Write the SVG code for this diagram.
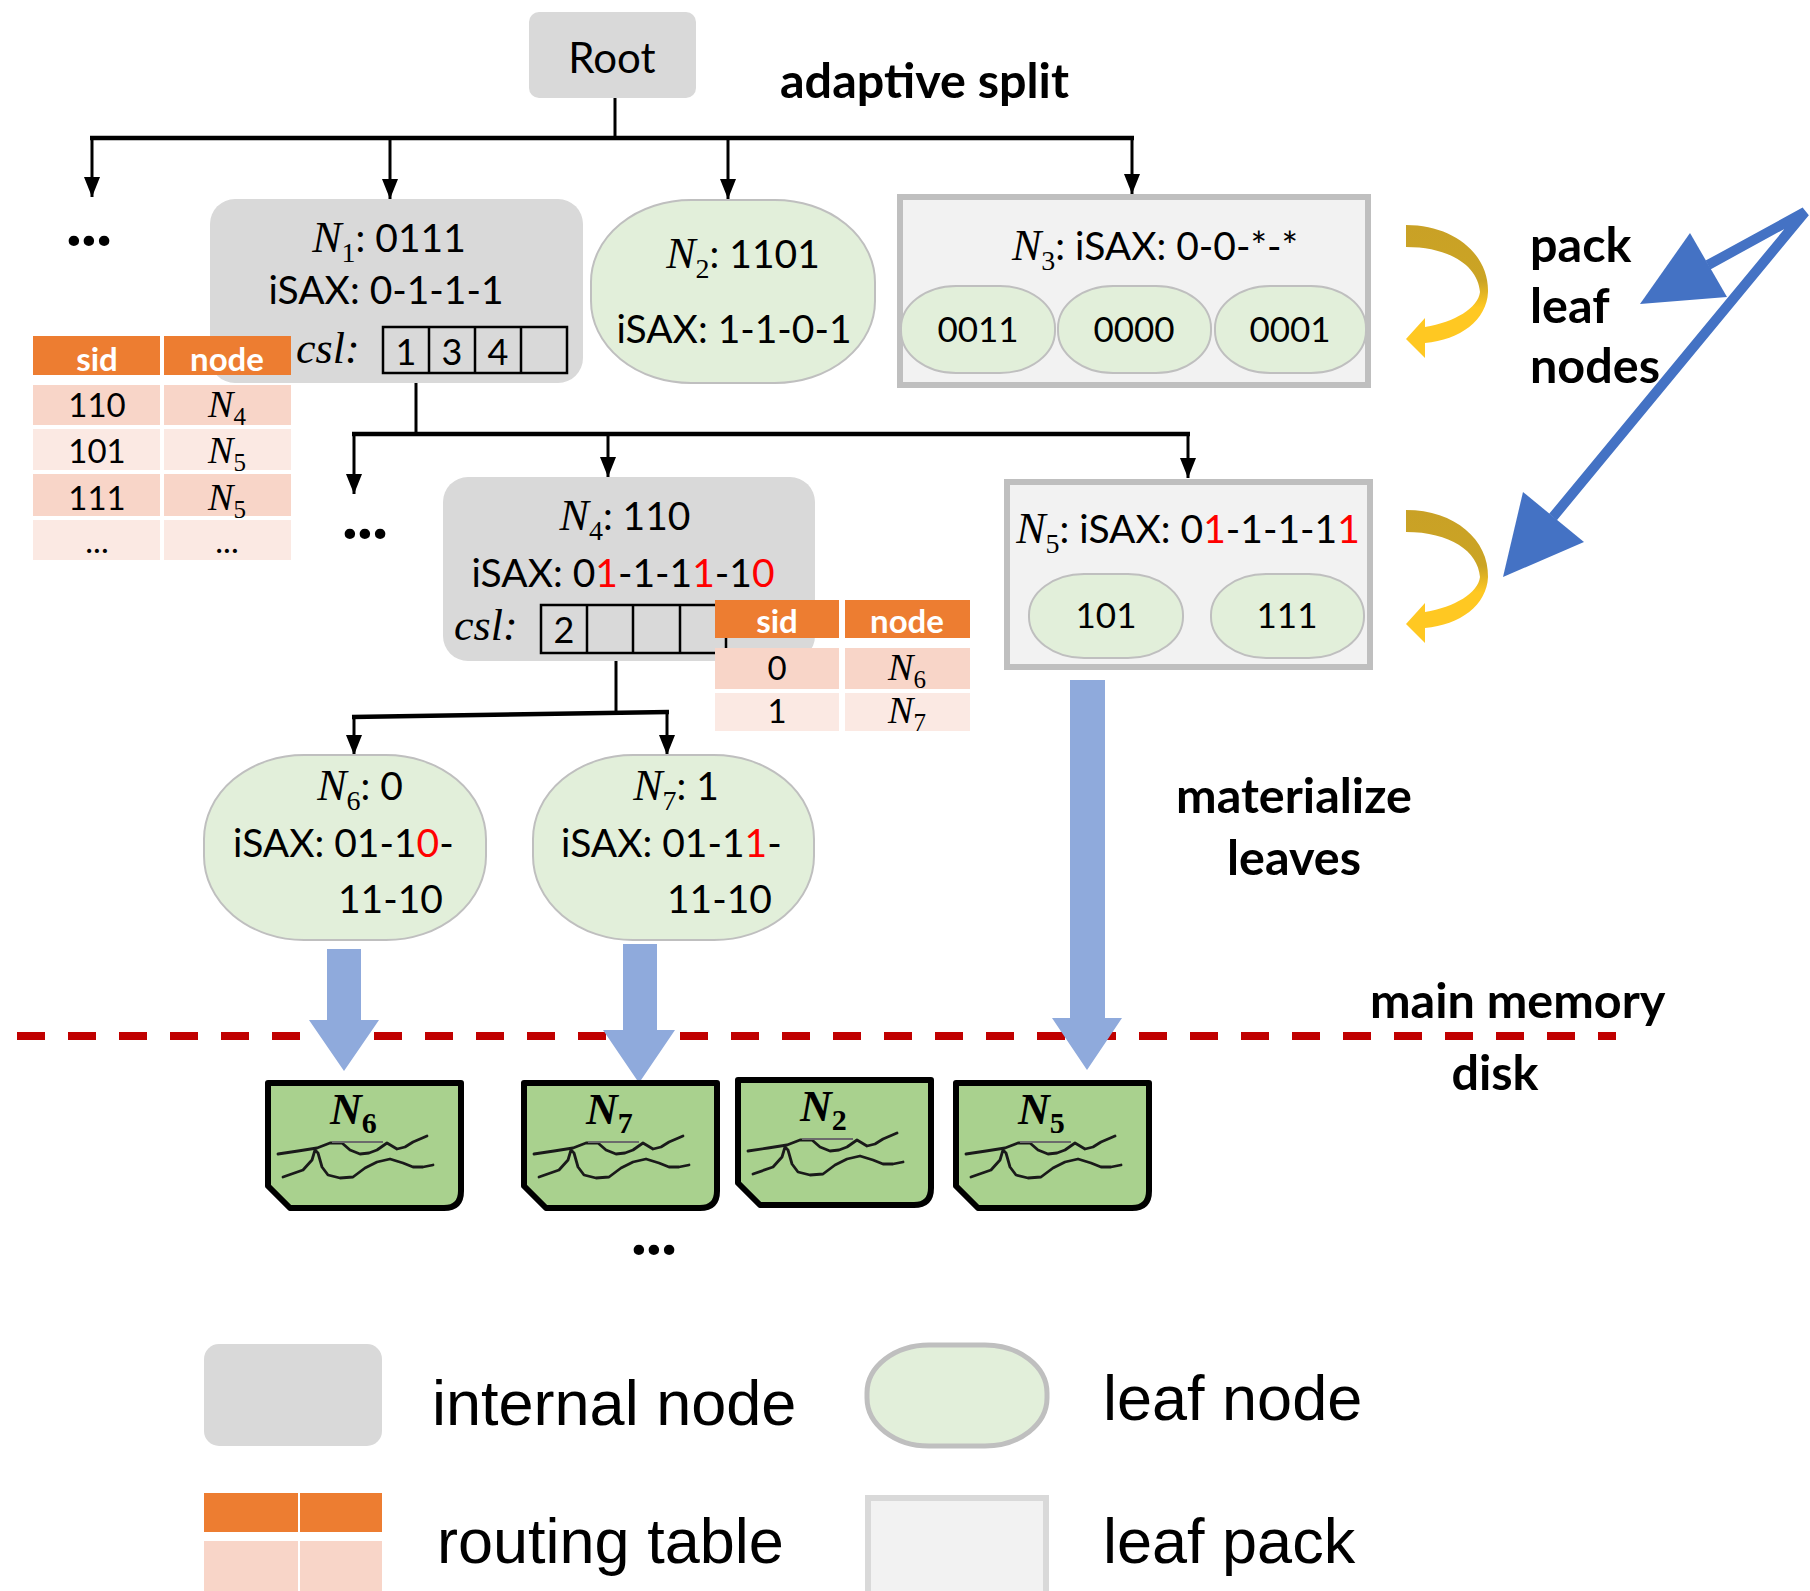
<svg xmlns="http://www.w3.org/2000/svg" width="1810" height="1591" viewBox="0 0 1810 1591">
<defs>
<style>
.t{font-family:Lato,'Open Sans',sans-serif;fill:#000}
.nd{font-size:39px}
.ni{font-family:'Liberation Serif','Times New Roman',serif;font-style:italic;font-size:44px}
.sub{font-family:'Liberation Serif','Times New Roman',serif;font-style:normal}
.lbl{font-family:Lato,'Open Sans',sans-serif;font-weight:700;font-size:48.5px;fill:#000}
.leg{font-family:'Liberation Sans',Arial,sans-serif;font-size:63px;fill:#000}
.dots{font-family:Lato,'Open Sans',sans-serif;font-weight:900;font-size:64px;fill:#000}
.int{fill:#d9d9d9}
.leaf{fill:#e2efda;stroke:#bfbfbf;stroke-width:2}
.pack{fill:#f2f2f2;stroke:#bfbfbf;stroke-width:6}
.hd{fill:#ed7d31}
.dk{fill:#f8d5c8}
.lt{fill:#fbe9e3}
.red{fill:#ff0000}
.th{font-family:Lato,'Open Sans',sans-serif;font-weight:700;font-size:33px;fill:#fff}
.td{font-family:Lato,'Open Sans',sans-serif;font-size:33px;fill:#000}
.tdn{font-size:38px}
.csl{fill:none;stroke:#000;stroke-width:2.5}
.wire{fill:none;stroke:#000;stroke-width:3}
.bus{fill:none;stroke:#000;stroke-width:4.5}
.fat{fill:#8faadc}
.blue{fill:#4472c4}
.dl{font-family:'Liberation Serif',serif;font-weight:700;font-size:44px}
</style>
<marker id="ah" markerUnits="userSpaceOnUse" markerWidth="20" markerHeight="16" refX="20" refY="8" orient="auto">
<path d="M0,0 L20,8 L0,16 Z" fill="#000"/>
</marker>
<linearGradient id="gold" x1="0" y1="0" x2="0" y2="1">
<stop offset="0" stop-color="#c9a126"/>
<stop offset="0.42" stop-color="#cba424"/>
<stop offset="0.62" stop-color="#ffc822"/>
<stop offset="1" stop-color="#ffc822"/>
</linearGradient>
<path id="curl" fill="url(#gold)" d="M1406,225 C1455,225 1489,255 1488,292 C1487,320 1460,340 1425,343 L1425,358 L1406,339 L1425,318 L1425,327 C1455,322 1478,308 1480,292 C1478,266 1450,247 1406,247 Z"/>
<g id="disk">
<path d="M0,0 H193 V108 Q193,125 176,125 H22 L0,103 Z" fill="#a9d18e" stroke="#000" stroke-width="6" stroke-linejoin="round"/>
<polyline points="10,71 30,68 49,65 62,60 74,60 82,67 92,71 101,70 109,67 119,60 129,66 137,64 145,59 159,53" fill="none" stroke="#1a1a1a" stroke-width="2.8" stroke-linejoin="round" stroke-linecap="round"/>
<polyline points="15,94 35,87 44,77 47,67 50,70 54,84 60,92 72,95 85,94 97,85 109,79 122,76 135,80 145,84 155,84 165,82" fill="none" stroke="#1a1a1a" stroke-width="2.8" stroke-linejoin="round" stroke-linecap="round"/>
<path d="M64,59 H115" stroke="#6b6b6b" stroke-width="1.8"/>
</g>
</defs>

<rect width="1810" height="1591" fill="#fff"/>

<!-- tree connectors -->
<g id="connectors">
<path class="wire" d="M615,98 V138"/>
<path class="bus" d="M90,138 H1134"/>
<path class="wire" d="M92,138 V197" marker-end="url(#ah)"/>
<path class="wire" d="M390,138 V199" marker-end="url(#ah)"/>
<path class="wire" d="M728,138 V199" marker-end="url(#ah)"/>
<path class="wire" d="M1132,138 V194" marker-end="url(#ah)"/>
<path class="wire" d="M416,373 V434"/>
<path class="bus" d="M352,434 H1190"/>
<path class="wire" d="M354,434 V494" marker-end="url(#ah)"/>
<path class="wire" d="M608,434 V477" marker-end="url(#ah)"/>
<path class="wire" d="M1188,434 V478" marker-end="url(#ah)"/>
<path class="wire" d="M616,653 V714"/>
<path class="bus" d="M352,717 L669,712"/>
<path class="wire" d="M354,717 V755" marker-end="url(#ah)"/>
<path class="wire" d="M667,712 V755" marker-end="url(#ah)"/>
</g>

<!-- root -->
<g id="root">
<rect class="int" x="529" y="12" width="167" height="86" rx="10"/>
<text class="t" x="612" y="73" text-anchor="middle" font-size="42">Root</text>
</g>

<text class="dots" x="89" y="246" text-anchor="middle">...</text>
<text class="dots" x="365" y="539" text-anchor="middle">...</text>
<text class="dots" x="654" y="1255" text-anchor="middle">...</text>

<!-- N1 internal node -->
<g id="n1">
<rect class="int" x="210" y="199" width="373" height="184" rx="25"/>
<text class="t nd" x="389" y="252" text-anchor="middle"><tspan class="ni">N</tspan><tspan class="sub" font-size="28" dy="10">1</tspan><tspan dy="-10">: 0111</tspan></text>
<text class="t nd" x="386" y="304" text-anchor="middle">iSAX: 0-1-1-1</text>
<text class="t ni" x="296" y="363" font-size="42">csl:</text>
<rect class="csl" x="383" y="327" width="184" height="46"/>
<path class="csl" d="M429,327 V373 M475,327 V373 M521,327 V373"/>
<text class="t" font-size="36" text-anchor="middle" y="365"><tspan x="406">1</tspan><tspan x="452">3</tspan><tspan x="498">4</tspan></text>
</g>

<!-- N1 routing table -->
<g id="n1-table">
<rect class="hd" x="33" y="336" width="127" height="39"/>
<rect class="hd" x="164" y="336" width="127" height="39"/>
<rect class="dk" x="33" y="385" width="127" height="40"/>
<rect class="dk" x="164" y="385" width="127" height="40"/>
<rect class="lt" x="33" y="429" width="127" height="41"/>
<rect class="lt" x="164" y="429" width="127" height="41"/>
<rect class="dk" x="33" y="474" width="127" height="42"/>
<rect class="dk" x="164" y="474" width="127" height="42"/>
<rect class="lt" x="33" y="520" width="127" height="40"/>
<rect class="lt" x="164" y="520" width="127" height="40"/>
<text class="th" x="97" y="371" text-anchor="middle">sid</text>
<text class="th" x="227" y="371" text-anchor="middle">node</text>
<text class="td" x="97" y="417" text-anchor="middle">110</text>
<text class="td" x="97" y="463" text-anchor="middle">101</text>
<text class="td" x="97" y="510" text-anchor="middle">111</text>
<text class="td" x="227" y="417" text-anchor="middle"><tspan class="ni tdn">N</tspan><tspan class="sub" font-size="25" dy="8">4</tspan></text>
<text class="td" x="227" y="463" text-anchor="middle"><tspan class="ni tdn">N</tspan><tspan class="sub" font-size="25" dy="8">5</tspan></text>
<text class="td" x="227" y="510" text-anchor="middle"><tspan class="ni tdn">N</tspan><tspan class="sub" font-size="25" dy="8">5</tspan></text>
<text class="td" x="97" y="553" text-anchor="middle" font-size="22" fill="#666">...</text>
<text class="td" x="227" y="553" text-anchor="middle" font-size="22" fill="#666">...</text>
</g>

<!-- N2 leaf node -->
<g id="n2">
<rect class="leaf" x="591" y="200" width="284" height="183" rx="100" ry="82"/>
<text class="t nd" x="743" y="268" text-anchor="middle"><tspan class="ni">N</tspan><tspan class="sub" font-size="28" dy="10">2</tspan><tspan dy="-10">: 1101</tspan></text>
<text class="t nd" x="734" y="343" text-anchor="middle">iSAX: 1-1-0-1</text>
</g>

<!-- N3 leaf pack -->
<g id="n3">
<rect class="pack" x="900" y="197" width="468" height="188"/>
<text class="t nd" x="1155" y="260" text-anchor="middle"><tspan class="ni">N</tspan><tspan class="sub" font-size="28" dy="10">3</tspan><tspan dy="-10">: iSAX: 0-0-*-*</tspan></text>
<rect class="leaf" x="901" y="286" width="154" height="87" rx="55" ry="42"/>
<rect class="leaf" x="1058" y="286" width="153" height="87" rx="55" ry="42"/>
<rect class="leaf" x="1215" y="286" width="151" height="87" rx="55" ry="42"/>
<text class="t" font-size="35" text-anchor="middle" y="342"><tspan x="978">0011</tspan><tspan x="1134">0000</tspan><tspan x="1290">0001</tspan></text>
</g>

<!-- N4 internal node -->
<g id="n4">
<rect class="int" x="443" y="477" width="372" height="184" rx="25"/>
<text class="t nd" x="625" y="530" text-anchor="middle"><tspan class="ni">N</tspan><tspan class="sub" font-size="28" dy="10">4</tspan><tspan dy="-10">: 110</tspan></text>
<text class="t nd" x="623" y="587" text-anchor="middle">iSAX: 0<tspan class="red">1</tspan>-1-1<tspan class="red">1</tspan>-1<tspan class="red">0</tspan></text>
<text class="t ni" x="454" y="640" font-size="42">csl:</text>
<rect class="csl" x="541" y="605" width="185" height="48"/>
<path class="csl" d="M587,605 V653 M633,605 V653 M680,605 V653"/>
<text class="t" font-size="36" x="564" y="643" text-anchor="middle">2</text>
</g>

<!-- N4 routing table -->
<g id="n4-table">
<rect class="hd" x="715" y="600" width="124" height="38"/>
<rect class="hd" x="845" y="600" width="125" height="38"/>
<rect class="dk" x="715" y="648" width="124" height="41"/>
<rect class="dk" x="845" y="648" width="125" height="41"/>
<rect class="lt" x="715" y="693" width="124" height="38"/>
<rect class="lt" x="845" y="693" width="125" height="38"/>
<text class="th" x="777" y="633" text-anchor="middle">sid</text>
<text class="th" x="907" y="633" text-anchor="middle">node</text>
<text class="td" x="777" y="680" text-anchor="middle">0</text>
<text class="td" x="777" y="723" text-anchor="middle">1</text>
<text class="td" x="907" y="680" text-anchor="middle"><tspan class="ni tdn">N</tspan><tspan class="sub" font-size="25" dy="8">6</tspan></text>
<text class="td" x="907" y="723" text-anchor="middle"><tspan class="ni tdn">N</tspan><tspan class="sub" font-size="25" dy="8">7</tspan></text>
</g>

<!-- N5 leaf pack -->
<g id="n5">
<rect class="pack" x="1007" y="482" width="363" height="185"/>
<text class="t nd" x="1188" y="543" text-anchor="middle"><tspan class="ni">N</tspan><tspan class="sub" font-size="28" dy="10">5</tspan><tspan dy="-10">: iSAX: 0</tspan><tspan class="red">1</tspan>-1-1-1<tspan class="red">1</tspan></text>
<rect class="leaf" x="1029" y="574" width="154" height="84" rx="55" ry="41"/>
<rect class="leaf" x="1211" y="574" width="153" height="84" rx="55" ry="41"/>
<text class="t" font-size="35" text-anchor="middle" y="628"><tspan x="1106">101</tspan><tspan x="1287">111</tspan></text>
</g>

<!-- N6, N7 leaf nodes -->
<g id="n6">
<rect class="leaf" x="204" y="755" width="282" height="185" rx="100" ry="84"/>
<text class="t nd" x="360" y="800" text-anchor="middle"><tspan class="ni">N</tspan><tspan class="sub" font-size="28" dy="10">6</tspan><tspan dy="-10">: 0</tspan></text>
<text class="t nd" x="233" y="857">iSAX: 01-1<tspan class="red">0</tspan>-</text>
<text class="t nd" x="338" y="913">11-10</text>
</g>
<g id="n7">
<rect class="leaf" x="533" y="755" width="281" height="185" rx="100" ry="84"/>
<text class="t nd" x="676" y="800" text-anchor="middle"><tspan class="ni">N</tspan><tspan class="sub" font-size="28" dy="10">7</tspan><tspan dy="-10">: 1</tspan></text>
<text class="t nd" x="561" y="857">iSAX: 01-1<tspan class="red">1</tspan>-</text>
<text class="t nd" x="667" y="913">11-10</text>
</g>

<!-- pack / split annotations -->
<g id="pack-curls">
<use href="#curl"/>
<use href="#curl" transform="translate(0,285)"/>
</g>
<g id="pack-arrow">
<polyline points="1708,265 1805,212 1553,517" fill="none" stroke="#4472c4" stroke-width="10"/>
<polygon class="blue" points="1690,233 1640,304 1727,297"/>
<polygon class="blue" points="1523,492 1503,577 1584,542"/>
</g>
<text class="lbl" x="780" y="98">adaptive split</text>
<text class="lbl" x="1530" y="262">pack</text>
<text class="lbl" x="1530" y="323">leaf</text>
<text class="lbl" x="1530" y="383">nodes</text>
<text class="lbl" x="1294" y="813" text-anchor="middle">materialize</text>
<text class="lbl" x="1294" y="875" text-anchor="middle">leaves</text>
<text class="lbl" x="1370" y="1018">main memory</text>
<text class="lbl" x="1495" y="1090" text-anchor="middle">disk</text>

<!-- memory / disk boundary -->
<path d="M17,1036 H1616" stroke="#c00000" stroke-width="8" stroke-dasharray="28 23"/>

<!-- materialize arrows -->
<g id="materialize">
<path class="fat" d="M327,949 H361 V1020 H379 L344,1071 L309,1020 H327 Z"/>
<path class="fat" d="M623,944 H657 V1030 H675 L639,1083 L603,1030 H623 Z"/>
<path class="fat" d="M1070,680 H1105 V1018 H1122 L1087,1070 L1052,1018 H1070 Z"/>
</g>

<!-- on-disk leaves -->
<g id="disk-n6">
<use href="#disk" x="268" y="1083"/>
<text class="dl" x="330" y="1124"><tspan font-style="italic">N</tspan><tspan font-size="30" dy="9">6</tspan></text>
</g>
<g id="disk-n7">
<use href="#disk" x="524" y="1083"/>
<text class="dl" x="586" y="1124"><tspan font-style="italic">N</tspan><tspan font-size="30" dy="9">7</tspan></text>
</g>
<g id="disk-n2">
<use href="#disk" x="738" y="1080"/>
<text class="dl" x="800" y="1121"><tspan font-style="italic">N</tspan><tspan font-size="30" dy="9">2</tspan></text>
</g>
<g id="disk-n5">
<use href="#disk" x="956" y="1083"/>
<text class="dl" x="1018" y="1124"><tspan font-style="italic">N</tspan><tspan font-size="30" dy="9">5</tspan></text>
</g>

<!-- legend -->
<g id="legend">
<rect class="int" x="204" y="1344" width="178" height="102" rx="15"/>
<text class="leg" x="432" y="1425">internal node</text>
<rect x="867" y="1345" width="180" height="101" rx="62" ry="48" fill="#e2efda" stroke="#bfbfbf" stroke-width="5"/>
<text class="leg" x="1103" y="1420">leaf node</text>
<rect class="hd" x="204" y="1493" width="94" height="39"/>
<rect class="hd" x="300" y="1493" width="82" height="39"/>
<rect class="dk" x="204" y="1541" width="94" height="50"/>
<rect class="dk" x="300" y="1541" width="82" height="50"/>
<text class="leg" x="437" y="1563">routing table</text>
<rect x="868" y="1498" width="178" height="110" fill="#f2f2f2" stroke="#d9d9d9" stroke-width="6"/>
<text class="leg" x="1103" y="1563">leaf pack</text>
</g>
</svg>
